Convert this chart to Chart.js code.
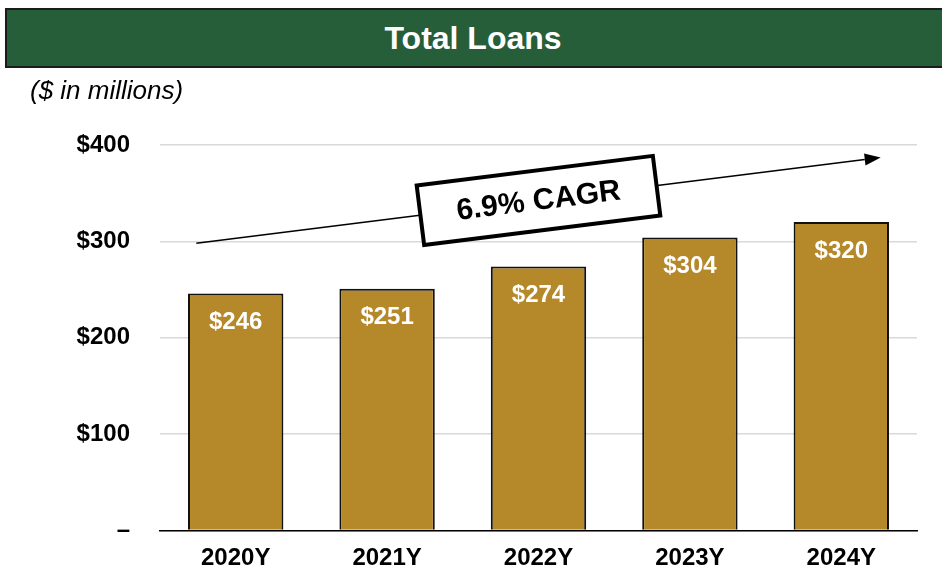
<!DOCTYPE html>
<html><head><meta charset="utf-8">
<script src="https://cdn.jsdelivr.net/npm/chart.js@4.4.1/dist/chart.umd.min.js"></script>
<style>
html,body{margin:0;padding:0;background:#fff;width:942px;height:575px;overflow:hidden;font-family:"Liberation Sans",Arial,sans-serif;}
#banner{position:absolute;left:5px;top:8px;width:945px;height:56px;background:#265E3A;border:2px solid #1b1b1b;box-sizing:content-box;color:#fff;font-weight:bold;font-size:32px;line-height:56px;text-align:center;z-index:2;}
#banner span{position:absolute;width:942px;text-align:center;left:-5px}
#sub{position:absolute;left:30px;top:75px;font-style:italic;font-size:26px;color:#000;z-index:2;}
#wrap{position:absolute;left:0;top:0;width:942px;height:575px;}
</style></head><body>
<div id="banner"><span>Total Loans</span></div>
<div id="sub">($ in millions)</div>
<div id="wrap"><canvas id="c" width="942" height="575"></canvas></div>
<script>
const categories = ["2020Y","2021Y","2022Y","2023Y","2024Y"];
const loans = [246, 251, 274, 304, 320];
const yTicks = [0, 100, 200, 300, 400];
const cagrLabel = "6.9% CAGR";
const cagrStart = [-0.26, 298];
const cagrEnd = [4.26, 387];

const FONT = "'Liberation Sans', Arial, sans-serif";

const overlay = {
  id: 'overlay',
  afterDatasetsDraw(chart) {
    const {ctx, scales:{x, y}} = chart;
    const meta = chart.getDatasetMeta(0);
    ctx.save();
    ctx.fillStyle = '#fff';
    ctx.font = 'bold 24px ' + FONT;
    ctx.textAlign = 'center';
    ctx.textBaseline = 'middle';
    meta.data.forEach((bar, i) => {
      ctx.fillText('$' + loans[i], bar.x, bar.y + 29);
    });
    const step = x.getPixelForValue(1) - x.getPixelForValue(0);
    const px = v => x.getPixelForValue(0) + v * step;
    const x1 = px(cagrStart[0]), y1 = y.getPixelForValue(cagrStart[1]);
    const x2 = px(cagrEnd[0]), y2 = y.getPixelForValue(cagrEnd[1]);
    const ang = Math.atan2(y2 - y1, x2 - x1);
    ctx.strokeStyle = '#000';
    ctx.fillStyle = '#000';
    ctx.lineWidth = 1.6;
    const hl = 16, hw = 6;
    const bx = x2 - hl * Math.cos(ang), by = y2 - hl * Math.sin(ang);
    ctx.beginPath(); ctx.moveTo(x1, y1); ctx.lineTo(bx, by); ctx.stroke();
    ctx.beginPath();
    ctx.moveTo(x2, y2);
    ctx.lineTo(bx + hw * Math.sin(ang), by - hw * Math.cos(ang));
    ctx.lineTo(bx - hw * Math.sin(ang), by + hw * Math.cos(ang));
    ctx.closePath(); ctx.fill();
    const cx = (x1 + x2) / 2, cy = (y1 + y2) / 2;
    ctx.translate(cx, cy);
    ctx.rotate(ang);
    const w = 238, h = 60;
    ctx.fillStyle = '#fff';
    ctx.fillRect(-w/2, -h/2, w, h);
    ctx.lineWidth = 4;
    ctx.strokeRect(-w/2, -h/2, w, h);
    ctx.fillStyle = '#000';
    ctx.font = 'bold 30px ' + FONT;
    ctx.textAlign = 'center';
    ctx.textBaseline = 'middle';
    ctx.fillText(cagrLabel, 0, 1);
    ctx.restore();
  }
};

new Chart(document.getElementById('c'), {
  type: 'bar',
  data: {
    labels: categories,
    datasets: [{
      data: loans,
      backgroundColor: '#B5882A',
      borderColor: '#111',
      borderWidth: 2,
      borderSkipped: 'bottom',
      categoryPercentage: 1,
      barPercentage: 0.63
    }]
  },
  options: {
    responsive: false,
    animation: false,
    devicePixelRatio: 1,
    layout: { padding: { top: 145, right: 25, bottom: 0, left: 0 } },
    plugins: { legend: { display: false }, tooltip: { enabled: false }, title: { display: false } },
    scales: {
      x: {
        grid: { display: false, drawTicks: false },
        border: { display: true, color: '#000', width: 1.5 },
        ticks: { color: '#000', font: { family: FONT, size: 24, weight: 'bold' }, padding: 13 },
        afterFit(s) { s.height = 42; }
      },
      y: {
        min: 0, max: 400,
        afterBuildTicks(s) { s.ticks = yTicks.map(v => ({ value: v })); },
        grid: { color: '#d9d9d9', lineWidth: 1.5, drawTicks: false },
        border: { display: false },
        ticks: {
          color: '#000', padding: 30,
          font: { family: FONT, size: 24, weight: 'bold' },
          callback: v => v === 0 ? '–' : '$' + v
        },
        afterFit(s) { s.width = 160; }
      }
    }
  },
  plugins: [overlay]
});
</script>
</body></html>
